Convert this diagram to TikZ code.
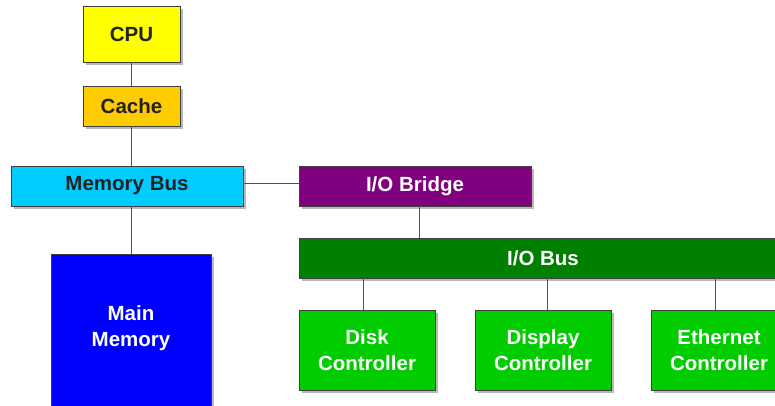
\documentclass[tikz,border=0pt]{standalone}
\usepackage{fontspec}
\setmainfont{Liberation Sans}
\usetikzlibrary{shadows}
\definecolor{edgec}{HTML}{404040}
\definecolor{linec}{HTML}{505050}
\definecolor{darktext}{HTML}{222222}
\definecolor{cpuc}{HTML}{FFFF00}
\definecolor{cachec}{HTML}{FFCC00}
\definecolor{membusc}{HTML}{00CCFF}
\definecolor{bridgec}{HTML}{800080}
\definecolor{iobusc}{HTML}{008000}
\definecolor{ctrlc}{HTML}{00CC00}
\definecolor{memc}{HTML}{0000FF}
\definecolor{shadowc}{HTML}{B8B8B8}
\tikzset{
  box/.style={draw=edgec, line width=0.9pt, rectangle, inner sep=0pt, align=center,
    font=\fontsize{20.5}{25.5}\selectfont\bfseries,
    drop shadow={shadow xshift=3pt, shadow yshift=-3pt, fill=shadowc, opacity=1}},
  dark/.style={text=darktext},
  light/.style={text=white},
  conn/.style={draw=linec, line width=0.9pt}
}
\begin{document}
\begin{tikzpicture}[x=1pt,y=-1pt]
\useasboundingbox (0,0) rectangle (775,405);
\clip (0,0) rectangle (775,405);
\node[box, dark, fill=cpuc, minimum width=97, minimum height=56] (cpu) at (131.5,34) {CPU};
\node[box, dark, fill=cachec, minimum width=97, minimum height=40] (cache) at (131.5,106) {Cache};
\node[box, dark, fill=membusc, minimum width=232, minimum height=40] (membus) at (127,186) {Memory Bus};
\node[box, light, fill=bridgec, minimum width=232, minimum height=40] (bridge) at (415,186) {I/O Bridge};
\node[box, light, fill=iobusc, minimum width=488, minimum height=40] (iobus) at (543,258) {I/O Bus};
\node[box, light, fill=memc, minimum width=160, minimum height=170] (mem) at (131,339) {};
\node[light, align=center, font=\fontsize{20.5}{25.5}\selectfont\bfseries] (memtext) at (131,328) {Main\\Memory};
\node[box, light, fill=ctrlc, minimum width=136, minimum height=80] (disk) at (367,350) {Disk\\Controller};
\node[box, light, fill=ctrlc, minimum width=136, minimum height=80] (display) at (543,350) {Display\\Controller};
\node[box, light, fill=ctrlc, minimum width=136, minimum height=80] (eth) at (719,350) {Ethernet\\Controller};
\draw[conn] (cpu) -- (cache);
\draw[conn] (cache) -- (cache |- membus.north);
\draw[conn] (membus.south -| mem.north) -- (mem.north);
\draw[conn] ([yshift=3pt]membus.east) -- ([yshift=3pt]bridge.west);
\draw[conn] ([xshift=4pt]bridge.south) -- ([xshift=4pt]bridge.south |- iobus.north);
\draw[conn] ([xshift=-4pt]disk.north) -- ([xshift=-4pt]disk.north |- iobus.south);
\draw[conn] ([xshift=4pt]display.north) -- ([xshift=4pt]display.north |- iobus.south);
\draw[conn] ([xshift=-4pt]eth.north) -- ([xshift=-4pt]eth.north |- iobus.south);
\end{tikzpicture}
\end{document}
